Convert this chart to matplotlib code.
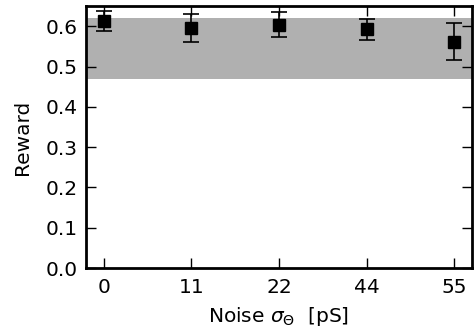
import numpy as np
import matplotlib
matplotlib.use("Agg")
import matplotlib.pyplot as plt

noise_labels = ["0", "11", "22", "44", "55"]
reward = [0.613, 0.596, 0.604, 0.592, 0.562]
reward_err = [0.024, 0.034, 0.031, 0.026, 0.045]
band_low, band_high = 0.470, 0.621

plt.rcParams['font.size'] = 14.5

fig, ax = plt.subplots(figsize=(4.74, 3.36), dpi=100)
x = np.arange(len(noise_labels))

ax.axhspan(band_low, band_high, color='#b0b0b0', lw=0, zorder=0)
ax.errorbar(x, reward, yerr=reward_err, fmt='s', color='black',
            ms=8, capsize=6, elinewidth=1.2, capthick=1.2)

ax.set_xlim(-0.2, 4.2)
ax.set_ylim(0, 0.65)
ax.set_xticks(x)
ax.set_xticklabels(noise_labels)
ax.set_yticks(np.arange(0, 0.61, 0.1))
ax.tick_params(direction='in', length=7, width=1, top=True, right=True)
ax.tick_params(axis='x', pad=7)
ax.tick_params(axis='y', pad=6)
for s in ax.spines.values():
    s.set_linewidth(2)
ax.set_xlabel(r"Noise $\sigma_\Theta$  [pS]", labelpad=6)
ax.set_ylabel("Reward", labelpad=10)

fig.subplots_adjust(left=0.182, right=0.995, top=0.982, bottom=0.202)
fig.savefig("out.png", dpi=100)
